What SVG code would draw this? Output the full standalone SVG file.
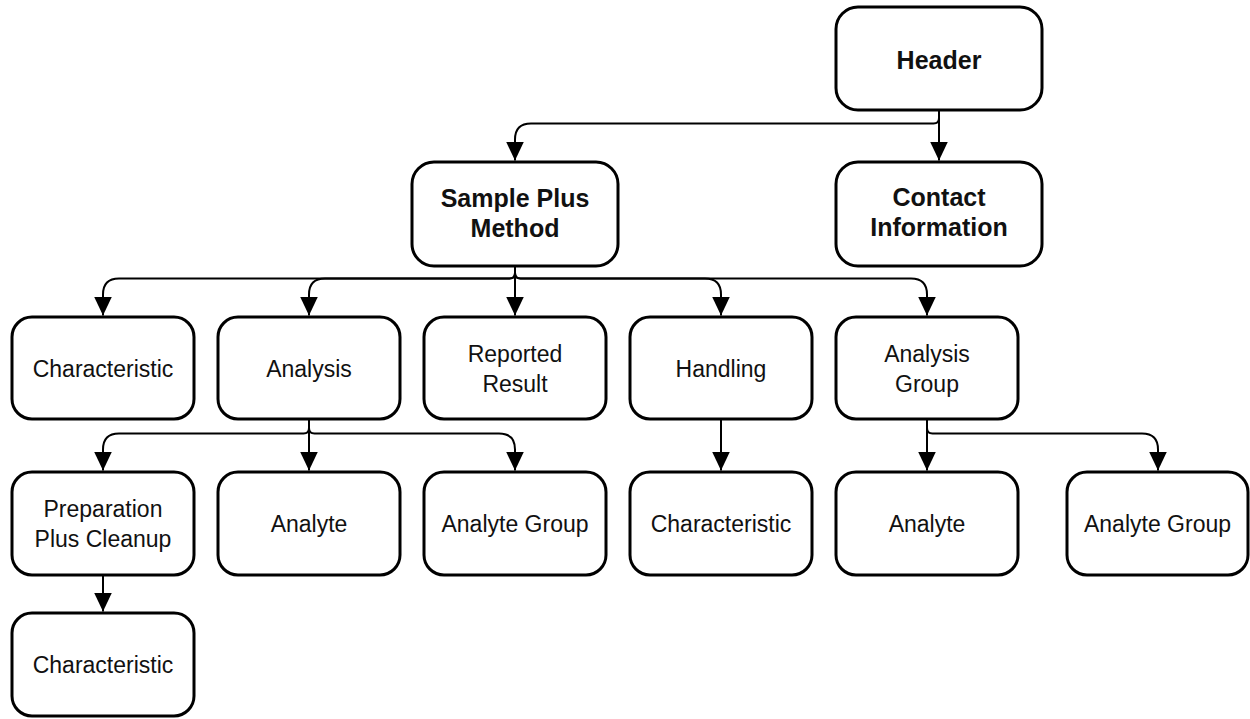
<svg xmlns="http://www.w3.org/2000/svg" width="1250" height="719" viewBox="0 0 1250 719">
<style>
.box{fill:#fff;stroke:#000;stroke-width:3}
.t{font-family:"Liberation Sans",Arial,sans-serif;font-size:23px;fill:#111;text-anchor:middle}
.b{font-family:"Liberation Sans",Arial,sans-serif;font-size:25px;font-weight:bold;fill:#111;text-anchor:middle}
.e{fill:none;stroke:#000;stroke-width:2;marker-end:url(#arr)}
</style>
<defs>
<marker id="arr" viewBox="0 0 19 18" markerWidth="19" markerHeight="18" refX="19" refY="9" markerUnits="userSpaceOnUse" orient="auto">
<path d="M0,0 L19,9 L0,18 z" fill="#000"/>
</marker>
</defs>
<rect width="1250" height="719" fill="#fff"/>
<g id="connectors">
<path class="e" d="M939 110 V118 Q939 123.5 933.5 123.5 H531 Q515 123.5 515 139.5 V160.5"/>
<path class="e" d="M939 110 V160.5"/>
<path class="e" d="M515 266 V273 Q515 278.5 509.5 278.5 H119 Q103 278.5 103 294.5 V315.5"/>
<path class="e" d="M515 266 V273 Q515 278.5 509.5 278.5 H325 Q309 278.5 309 294.5 V315.5"/>
<path class="e" d="M515 266 V315.5"/>
<path class="e" d="M515 266 V273 Q515 278.5 520.5 278.5 H705 Q721 278.5 721 294.5 V315.5"/>
<path class="e" d="M515 266 V273 Q515 278.5 520.5 278.5 H911 Q927 278.5 927 294.5 V315.5"/>
<path class="e" d="M309 419 V428 Q309 433.5 303.5 433.5 H119 Q103 433.5 103 449.5 V470.5"/>
<path class="e" d="M309 419 V470.5"/>
<path class="e" d="M309 419 V428 Q309 433.5 314.5 433.5 H499 Q515 433.5 515 449.5 V470.5"/>
<path class="e" d="M721 419 V470.5"/>
<path class="e" d="M927 419 V470.5"/>
<path class="e" d="M927 419 V428 Q927 433.5 932.5 433.5 H1142 Q1158 433.5 1158 449.5 V470.5"/>
<path class="e" d="M103 575 V611.5"/>
</g>
<g id="header"><rect class="box" x="836" y="7" width="206" height="103" rx="22"/><text class="b" x="939" y="68.5">Header</text></g>
<g id="sample"><rect class="box" x="412" y="162" width="206" height="104" rx="22"/><text class="b" x="515" y="206.5">Sample Plus</text><text class="b" x="515" y="236.5">Method</text></g>
<g id="contact"><rect class="box" x="836" y="162" width="206" height="104" rx="22"/><text class="b" x="939" y="206">Contact</text><text class="b" x="939" y="236">Information</text></g>
<g id="characteristic1"><rect class="box" x="12" y="317" width="182" height="102" rx="20"/><text class="t" x="103" y="376.5">Characteristic</text></g>
<g id="analysis"><rect class="box" x="218" y="317" width="182" height="102" rx="20"/><text class="t" x="309" y="376.5">Analysis</text></g>
<g id="reported"><rect class="box" x="424" y="317" width="182" height="102" rx="20"/><text class="t" x="515" y="361.5">Reported</text><text class="t" x="515" y="391.5">Result</text></g>
<g id="handling"><rect class="box" x="630" y="317" width="182" height="102" rx="20"/><text class="t" x="721" y="376.5">Handling</text></g>
<g id="analysisgroup"><rect class="box" x="836" y="317" width="182" height="102" rx="20"/><text class="t" x="927" y="361.5">Analysis</text><text class="t" x="927" y="391.5">Group</text></g>
<g id="prep"><rect class="box" x="12" y="472" width="182" height="103" rx="20"/><text class="t" x="103" y="517">Preparation</text><text class="t" x="103" y="547">Plus Cleanup</text></g>
<g id="analyte1"><rect class="box" x="218" y="472" width="182" height="103" rx="20"/><text class="t" x="309" y="532">Analyte</text></g>
<g id="analytegroup1"><rect class="box" x="424" y="472" width="182" height="103" rx="20"/><text class="t" x="515" y="532">Analyte Group</text></g>
<g id="characteristic2"><rect class="box" x="630" y="472" width="182" height="103" rx="20"/><text class="t" x="721" y="532">Characteristic</text></g>
<g id="analyte2"><rect class="box" x="836" y="472" width="182" height="103" rx="20"/><text class="t" x="927" y="532">Analyte</text></g>
<g id="analytegroup2"><rect class="box" x="1067" y="472" width="181" height="103" rx="20"/><text class="t" x="1157.5" y="532">Analyte Group</text></g>
<g id="characteristic3"><rect class="box" x="12" y="613" width="182" height="103" rx="20"/><text class="t" x="103" y="673">Characteristic</text></g>
</svg>
